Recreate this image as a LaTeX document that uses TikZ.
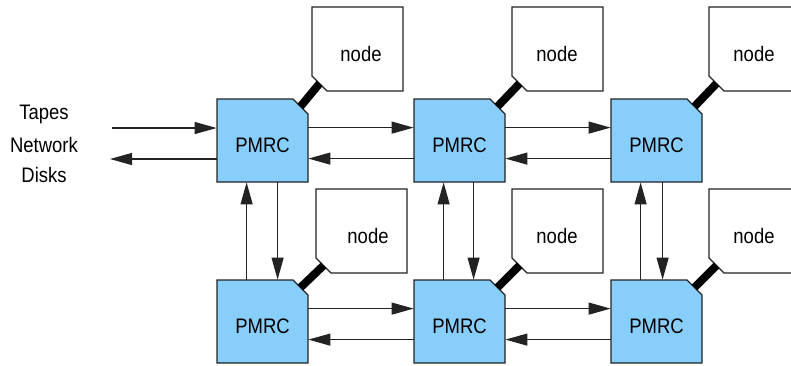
\documentclass[tikz,border=0pt]{standalone}
\usepackage{fontspec}
\setmainfont[FakeStretch=0.88]{Liberation Sans}
\usetikzlibrary{arrows.meta}
\definecolor{pmrcblue}{RGB}{135,206,250}
\definecolor{edgegray}{RGB}{35,35,35}

% PMRC unit: name, left, top (one unit = one pixel of the layout grid)
\newcommand\pmrcunit[3]{%
  \filldraw[pmrcshape] (#2,#3) -- ({#2+76},#3) -- ({#2+91},{#3+15})
    -- ({#2+91},{#3+83}) -- (#2,{#3+83}) -- cycle;
  \node[pmrclabel] (#1) at ({#2+45.5},{#3+41.5}) {PMRC};
  \coordinate (#1-c) at ({#2+83.5},{#3+7.5});
}
% compute node box: name, left, top, x offset of its label
\newcommand\hostunit[4]{%
  \draw[hostshape] (#2,#3) -- ({#2+91},#3) -- ({#2+91},{#3+84})
    -- ({#2+15},{#3+84}) -- (#2,{#3+69}) -- cycle;
  \node[hostlabel] (#1) at ({#2+#4},{#3+47}) {node};
  \coordinate (#1-c) at ({#2+7.5},{#3+76.5});
}

\begin{document}
\begin{tikzpicture}[x=0.5pt,y=-0.5pt,
  font=\fontsize{10.5}{12}\selectfont,
  pmrcshape/.style={fill=pmrcblue,draw=edgegray,line width=0.6pt},
  pmrclabel/.style={minimum width=45.5pt,minimum height=41.5pt,inner sep=0pt,
    text height=11.5pt,text depth=0pt},
  hostshape/.style={fill=white,draw=edgegray,line width=0.6pt},
  hostlabel/.style={inner sep=0pt},
  arr/.style={draw=edgegray,line width=0.6pt,-{Triangle[length=11pt,width=6pt]}},
  link/.style={line width=4pt,black},
  caption/.style={inner sep=0pt,anchor=center}]
\useasboundingbox (0,0) rectangle (791,365);
\clip (0,0) rectangle (791,365);

% external sources
\node[caption] (tapes) at (44,114.5) {Tapes};
\node[caption] (network) at (44,144.5) {Network};
\node[caption] (disks) at (44,174.5) {Disks};

% PMRC grid
\pmrcunit{p11}{217}{99}
\pmrcunit{p12}{414}{99}
\pmrcunit{p13}{611}{99}
\pmrcunit{p21}{217}{280}
\pmrcunit{p22}{414}{280}
\pmrcunit{p23}{611}{280}

% attached compute nodes
\hostunit{n11}{312}{7}{49}
\hostunit{n12}{512}{7}{45}
\hostunit{n13}{709}{7}{45}
\hostunit{n21}{316}{189}{52}
\hostunit{n22}{512}{189}{45}
\hostunit{n23}{709}{189}{45}

\foreach \r/\c in {1/1,1/2,1/3,2/1,2/2,2/3}
  \draw[link] (p\r\c-c) -- (n\r\c-c);

% I/O links
\coordinate (inA) at (112,128);
\coordinate (outA) at (110,159);
\draw[arr] (inA) -- (p11.west |- inA);
\draw[arr] (p11.west |- outA) -- (outA);

% horizontal links
\foreach \r in {1,2}{
  \draw[arr] ([yshift=-14.5pt]p\r1.north east) -- ([yshift=-14.5pt]p\r2.north west);
  \draw[arr] ([yshift=-30pt]p\r2.north west) -- ([yshift=-30pt]p\r1.north east);
  \draw[arr] ([yshift=-14.5pt]p\r2.north east) -- ([yshift=-14.5pt]p\r3.north west);
  \draw[arr] ([yshift=-30pt]p\r3.north west) -- ([yshift=-30pt]p\r2.north east);
}

% vertical links
\foreach \c/\d in {1/30.5pt,2/30pt,3/26pt}{
  \draw[arr] ([xshift=15pt]p2\c.north west) -- ([xshift=15pt]p1\c.south west);
  \draw[arr] ([xshift=\d]p1\c.south west) -- ([xshift=\d]p2\c.north west);
}
\end{tikzpicture}
\end{document}
